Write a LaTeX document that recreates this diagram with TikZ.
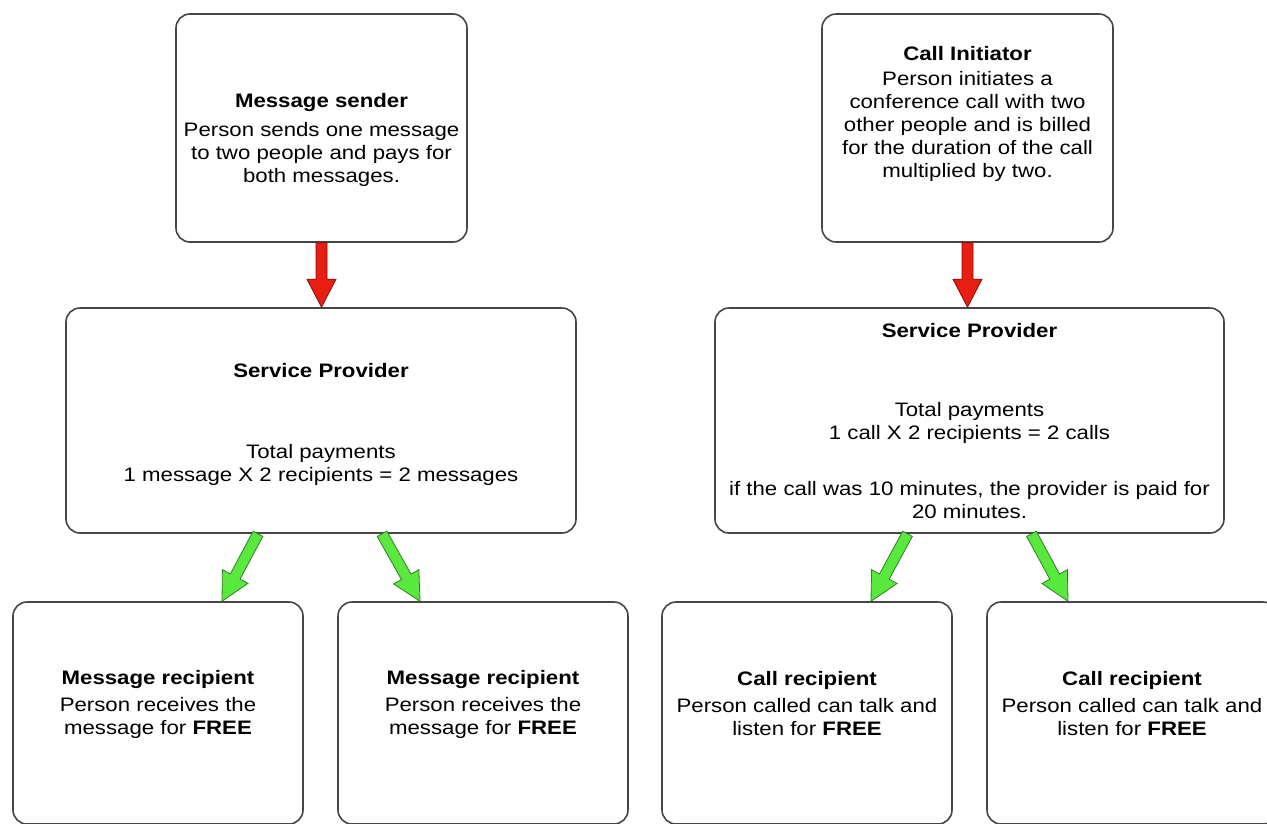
\documentclass[tikz,border=0pt]{standalone}
\usepackage{fontspec}
\setmainfont{Liberation Sans}[FakeStretch=1.14]
\usetikzlibrary{calc,positioning}
\definecolor{arrowred}{RGB}{232,30,18}
\definecolor{arrowgreen}{RGB}{88,232,62}
\definecolor{boxgray}{RGB}{70,70,70}
\tikzset{
box/.style={draw=boxgray,line width=1.6pt,rounded corners=14pt,fill=white},
txt/.style={align=center,font=\fontsize{19.5}{23}\selectfont},
fatarrow/.style={fill=#1,draw=#1!55!black,line width=0.8pt,line join=miter,
  to path={
    ($(\tikztostart)!5.5pt!90:(\tikztotarget)$)
    -- ($($(\tikztotarget)!28pt!(\tikztostart)$)!5.5pt!-90:(\tikztostart)$)
    -- ($($(\tikztotarget)!28pt!(\tikztostart)$)!14.5pt!-90:(\tikztostart)$)
    -- (\tikztotarget)
    -- ($($(\tikztotarget)!28pt!(\tikztostart)$)!14.5pt!90:(\tikztostart)$)
    -- ($($(\tikztotarget)!28pt!(\tikztostart)$)!5.5pt!90:(\tikztostart)$)
    -- ($(\tikztostart)!5.5pt!-90:(\tikztotarget)$)
    -- cycle}},
}

\begin{document}
\begin{tikzpicture}[x=1pt,y=-1pt]
    \useasboundingbox (0,0) rectangle (1267,823);
    \fill[white] (0,0) rectangle (1267,823);
    \clip (0,0) rectangle (1267,823);

    \node[box,minimum width=291pt,minimum height=228pt] (snd) at (321.5,128) {};
    \node[txt] (sndtxt) at ([yshift=-12pt]snd.center)
        {\textbf{Message sender}\\[6pt]Person sends one message\\to two people and pays for\\both messages.};
    \node[box,minimum width=510pt,minimum height=225pt] (spa) at (321,420.5) {};
    \node[txt] (spatxt) at ([yshift=-4pt]spa.center)
        {\textbf{Service Provider}\\[58pt]Total payments\\1 message X 2 recipients = 2 messages};

    \node[box,minimum width=291pt,minimum height=228pt] (cin) at (967.5,128) {};
    \node[txt] (cintxt) at ([yshift=14pt]cin.center)
        {\textbf{Call Initiator}\\[2pt]Person initiates a\\conference call with two\\other people and is billed\\for the duration of the call\\multiplied by two.};
    \node[box,minimum width=509pt,minimum height=225pt] (spb) at (969.5,420.5) {};
    \node[txt] (spbtxt) at ([yshift=-1pt]spb.center)
        {\textbf{Service Provider}\\[56pt]Total payments\\1 call X 2 recipients = 2 calls\\[33pt]if the call was 10 minutes, the provider is paid for\\20 minutes.};

    \node[box,minimum width=290pt,minimum height=222pt] (rca) at (158,713) {};
    \node[txt] (rcatxt) at ([yshift=9pt]rca.center)
        {\textbf{Message recipient}\\[4pt]Person receives the\\message for \textbf{FREE}};
    \node[box,minimum width=290pt,minimum height=222pt] (rcb) at (483,713) {};
    \node[txt] (rcbtxt) at ([yshift=9pt]rcb.center)
        {\textbf{Message recipient}\\[4pt]Person receives the\\message for \textbf{FREE}};
    \node[box,minimum width=290pt,minimum height=222pt] (rcc) at (807,713) {};
    \node[txt] (rcctxt) at ([yshift=9pt]rcc.center)
        {\textbf{Call recipient}\\[4pt]Person called can talk and\\listen for \textbf{FREE}};
    \node[box,minimum width=290pt,minimum height=222pt] (rcd) at (1132,713) {};
    \node[txt] (rcdtxt) at ([yshift=9pt]rcd.center)
        {\textbf{Call recipient}\\[4pt]Person called can talk and\\listen for \textbf{FREE}};

    \path[fatarrow=arrowred] (snd.south) to (snd.south |- spa.north);
    \path[fatarrow=arrowred] (cin.south) to (cin.south |- spb.north);
    \path[fatarrow=arrowgreen] ([xshift=-63pt]spa.south) to ([xshift=64pt]rca.north);
    \path[fatarrow=arrowgreen] ([xshift=61pt]spa.south) to ([xshift=-63pt]rcb.north);
    \path[fatarrow=arrowgreen] ([xshift=-62pt]spb.south) to ([xshift=64pt]rcc.north);
    \path[fatarrow=arrowgreen] ([xshift=62pt]spb.south) to ([xshift=-64pt]rcd.north);
\end{tikzpicture}
\end{document}
